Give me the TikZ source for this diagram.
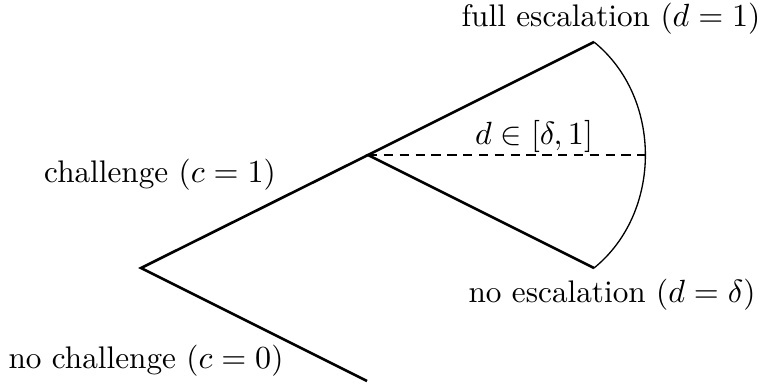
\documentclass[tikz,border=0pt]{standalone}
\usetikzlibrary{positioning}
\tikzset{
  game/branch/.style={line width=0.9pt},
  game/cutoff/.style={line width=0.9pt,dash pattern=on 3.2pt off 2.2pt},
  game/range/.style={line width=0.45pt},
  game/label/.style={inner sep=0pt,align=center,font=\fontsize{10.65pt}{12pt}\selectfont}
}
\begin{document}
\begin{tikzpicture}[x=0.341pt,y=-0.341pt]
  \useasboundingbox (0,0) rectangle (761,383);
  \coordinate (root) at (141,268);
  \coordinate (mid) at (368,155);
  \coordinate (nochal) at (367,381);
  \coordinate (full) at (594,42);
  \coordinate (none) at (594,268);
  \coordinate (rim) at (646,155);
  \draw[game/branch] (nochal) -- (root) -- (mid);
  \draw[game/branch] (full) -- (mid) -- (none);
  \draw[game/cutoff] (mid) -- (rim);
  \draw[game/range] (full) to[bend left=51] (none);
  \node[game/label] (fulllab) at (611,19) {full escalation ($d=1$)};
  \node[game/label] (rangelab) at (534,136) {$d\in[\delta,1]$};
  \node[game/label] (challab) at (160,175) {challenge ($c=1$)};
  \node[game/label] (nonelab) at (612,295) {no escalation ($d=\delta$)};
  \node[game/label] (nochallab) at (146,361) {no challenge ($c=0$)};
\end{tikzpicture}
\end{document}
